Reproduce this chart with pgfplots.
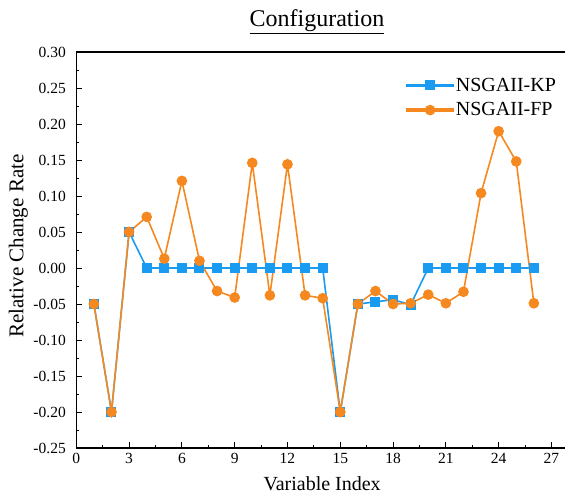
\documentclass[border=0pt]{standalone}
\usepackage{fontspec}
\setmainfont{Liberation Serif}
\usepackage{pgfplots}
\pgfplotsset{compat=1.18}

\definecolor{kpblue}{RGB}{24,155,240}
\definecolor{fporange}{RGB}{245,136,31}

\begin{document}
\begin{tikzpicture}
\begin{axis}[
  scale only axis,
  width=488.7pt, height=396pt,
  xmin=0, xmax=27.77,
  ymin=-0.25, ymax=0.30,
  axis x line=box, axis y line=left,
  axis line style={-, line width=1.1pt, black},
  xtick pos=left, ytick pos=left,
  tick align=inside,
  major tick length=6pt, minor tick length=3pt,
  tick style={line width=1pt, black},
  xtick={0,3,6,9,12,15,18,21,24,27},
  ytick={-0.25,-0.20,-0.15,-0.10,-0.05,0,0.05,0.10,0.15,0.20,0.25,0.30},
  minor x tick num=1, minor y tick num=1,
  /pgf/number format/assume math mode=true,
  tick label style={font=\fontsize{15.5}{15.5}\selectfont},
  yticklabel style={/pgf/number format/fixed, /pgf/number format/fixed zerofill,
    /pgf/number format/precision=2, xshift=-7pt},
  xticklabel style={yshift=-2pt},
  xlabel={Variable Index},
  ylabel={Relative Change Rate},
  every axis x label/.style={at={(axis description cs:0.503,0)}, anchor=center, yshift=-36pt,
    font=\fontsize{20}{20}\selectfont},
  every axis y label/.style={at={(axis description cs:0,0.51)}, anchor=center, rotate=90, yshift=58pt,
    font=\fontsize{21}{21}\selectfont},
  legend style={at={(axis description cs:0.99,0.945)}, anchor=north east, draw=none, fill=none,
    font=\fontsize{20}{20}\selectfont, row sep=6pt, inner sep=2pt},
  legend cell align=left,
  legend image code/.code={
    \fill (0pt,-0.9pt) rectangle (46pt,0.9pt);
    \draw[mark repeat=2, mark phase=2] plot coordinates {(0pt,0pt) (23pt,0pt) (46pt,0pt)};},
]
\addplot[color=kpblue, line width=1.6pt, mark=square*, mark size=4.2pt] coordinates {
  (1,-0.05) (2,-0.20) (3,0.05) (4,0) (5,0) (6,0) (7,0) (8,0) (9,0) (10,0)
  (11,0) (12,0) (13,0) (14,0) (15,-0.20) (16,-0.05) (17,-0.047) (18,-0.044)
  (19,-0.051) (20,0) (21,0) (22,0) (23,0) (24,0) (25,0) (26,0)
};
\addlegendentry{NSGAII-KP}
\addplot[color=fporange, line width=1.6pt, mark=*, mark size=4.5pt] coordinates {
  (1,-0.05) (2,-0.20) (3,0.05) (4,0.071) (5,0.013) (6,0.121) (7,0.010) (8,-0.032)
  (9,-0.041) (10,0.146) (11,-0.038) (12,0.144) (13,-0.038) (14,-0.042) (15,-0.20)
  (16,-0.05) (17,-0.032) (18,-0.050) (19,-0.049) (20,-0.037) (21,-0.049) (22,-0.033)
  (23,0.104) (24,0.190) (25,0.148) (26,-0.049)
};
\addlegendentry{NSGAII-FP}
\end{axis}
\node[font=\fontsize{24}{24}\selectfont] at (240.7pt,426pt) {\underline{Configuration}};
\pgfresetboundingbox
\path (-76.3pt,-48pt) rectangle (488.7pt,448pt);
\end{tikzpicture}
\end{document}
